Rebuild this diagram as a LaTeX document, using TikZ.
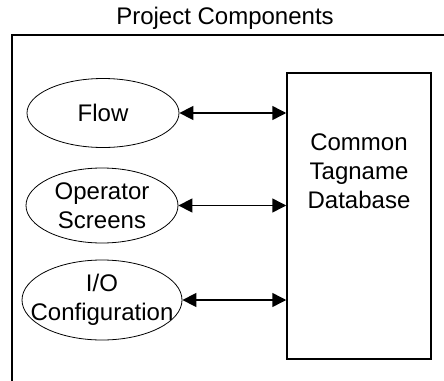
\documentclass[tikz,border=0pt]{standalone}
\usepackage{fontspec}
\setmainfont{Liberation Sans}
\usetikzlibrary{arrows.meta,shapes.geometric}
\begin{document}
\begin{tikzpicture}[x=0.5pt,y=-0.5pt,font=\fontsize{12}{14.5}\selectfont]
		\tikzstyle{part}=[draw,shape=ellipse,line width=0.4pt,inner xsep=-8pt,inner ysep=0pt,align=center]
		\tikzstyle{store}=[draw,shape=rectangle,line width=0.75pt,minimum width=72pt,minimum height=143pt]
		\tikzstyle{link}=[{Triangle[length=7pt,width=7pt]}-{Triangle[length=7pt,width=7pt]},line width=0.75pt]
		\tikzstyle{annot} = [align=center]

		\useasboundingbox (0,0) rectangle (444,380);
		\draw[line width=0.8pt] (12,35) rectangle (470,400);

		\node[annot](title) at (225,18){Project Components};

		\node[part,minimum width=76pt,minimum height=34.5pt](flow) at (103,113){Flow};
		\node[part,minimum width=76pt,minimum height=37.5pt](screens) at (102,205.5){Operator\\Screens};
		\node[part,minimum width=80pt,minimum height=40pt](io) at (102,300){I/O\\Configuration};

		\node[store](db) at (359,216){};
		\node[annot](dbtext) at (359,171){Common\\Tagname\\Database};

		\foreach \p in {flow,screens,io}
		{
		  \draw[link] (\p.east) -- (\p.east -| db.west);
		}

\end{tikzpicture}
\end{document}
